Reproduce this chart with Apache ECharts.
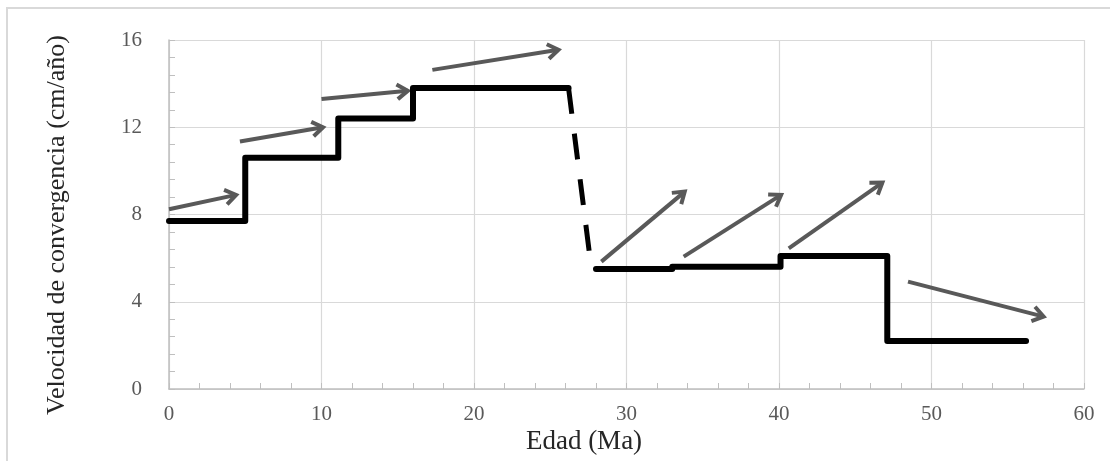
<!DOCTYPE html>
<html>
<head>
<meta charset="utf-8">
<script src="https://cdn.jsdelivr.net/npm/echarts@6/dist/echarts.min.js"></script>
<style>
  html, body { margin: 0; padding: 0; background: #fff; }
  #chart { width: 1110px; height: 461px; }
</style>
</head>
<body>
<div id="chart"></div>
<script>
// escalones de velocidad (Ma, cm/año)
var ages1 = [0, 5, 11.1, 16, 26.2]
var vel1 = [7.7, 10.6, 12.4, 13.8, 13.8]
// tramo discontinuo (caída)
var agesDash = [26.2, 27.7]
var velDash = [13.8, 5.5]
var ages2 = [28.0, 33, 40.1, 47.1, 56.2]
var vel2 = [5.5, 5.6, 6.1, 2.2, 2.2]
// flechas: [edad inicio, vel inicio, edad fin, vel fin]
var arrows = [
  [0, 8.24, 4.4, 8.9],
  [4.65, 11.35, 10.1, 12.0],
  [10.0, 13.29, 15.66, 13.67],
  [17.27, 14.63, 25.54, 15.55],
  [28.35, 5.84, 33.82, 9.05],
  [33.75, 6.07, 40.14, 8.9],
  [40.64, 6.45, 46.78, 9.46],
  [48.46, 4.92, 57.35, 3.32]
]

function zip(a, b) {
  return a.map(function (v, i) { return [v, b[i]] })
}

var chart = echarts.init(document.getElementById('chart'))
var serif = '"Liberation Serif", "Times New Roman", serif'

chart.setOption({
  animation: false,
  grid: { left: 169, right: 26, top: 40, bottom: 72 },
  graphic: [
    {
      type: 'rect',
      shape: { x: 7, y: 8, width: 1120, height: 470 },
      style: { fill: 'none', stroke: '#d9d9d9', lineWidth: 2 },
      silent: true
    },
    {
      type: 'text',
      x: 584, y: 442,
      style: {
        text: 'Edad (Ma)', font: '27px ' + serif, fill: '#262626',
        textAlign: 'center', textVerticalAlign: 'middle'
      }
    },
    {
      type: 'text',
      x: 57, y: 225, rotation: Math.PI / 2,
      style: {
        text: 'Velocidad de convergencia (cm/año)', font: '26px ' + serif, fill: '#262626',
        textAlign: 'center', textVerticalAlign: 'middle'
      }
    }
  ],
  xAxis: {
    type: 'value',
    min: 0, max: 60, interval: 10,
    axisLine: { lineStyle: { color: '#bfbfbf', width: 1.5 } },
    axisTick: { show: true, inside: true, length: 6, lineStyle: { color: '#bfbfbf' } },
    minorTick: { show: true, splitNumber: 5, length: 6, lineStyle: { color: '#bfbfbf' } },
    splitLine: { show: true, lineStyle: { color: '#d9d9d9', width: 1.2 } },
    axisLabel: { color: '#595959', fontFamily: serif, fontSize: 21, margin: 15 }
  },
  yAxis: {
    type: 'value',
    min: 0, max: 16, interval: 4,
    axisLine: { show: true, lineStyle: { color: '#bfbfbf', width: 1.5 } },
    axisTick: { show: true, inside: true, length: 6, lineStyle: { color: '#bfbfbf' } },
    minorTick: { show: true, splitNumber: 5, length: 6, lineStyle: { color: '#bfbfbf' } },
    splitLine: { show: true, lineStyle: { color: '#d9d9d9', width: 1.2 } },
    axisLabel: { color: '#595959', fontFamily: serif, fontSize: 21, margin: 27 }
  },
  series: [
    {
      type: 'line',
      step: 'end',
      data: zip(ages1, vel1),
      symbol: 'none',
      lineStyle: { color: '#000', width: 6, cap: 'round', join: 'round' }
    },
    {
      type: 'line',
      data: zip(agesDash, velDash),
      symbol: 'none',
      lineStyle: { color: '#000', width: 5, type: [26, 20] }
    },
    {
      type: 'line',
      step: 'end',
      data: zip(ages2, vel2),
      symbol: 'none',
      lineStyle: { color: '#000', width: 6, cap: 'round', join: 'round' }
    },
    {
      type: 'custom',
      data: arrows,
      renderItem: function (params, api) {
        var p0 = api.coord([api.value(0), api.value(1)])
        var p1 = api.coord([api.value(2), api.value(3)])
        var ang = Math.atan2(p1[1] - p0[1], p1[0] - p0[0])
        var len = 13, spread = 0.6
        var a = [p1[0] - len * Math.cos(ang - spread), p1[1] - len * Math.sin(ang - spread)]
        var b = [p1[0] - len * Math.cos(ang + spread), p1[1] - len * Math.sin(ang + spread)]
        var style = { stroke: '#595959', lineWidth: 4, fill: 'none' }
        return {
          type: 'group',
          children: [
            { type: 'line', shape: { x1: p0[0], y1: p0[1], x2: p1[0], y2: p1[1] }, style: style },
            { type: 'polyline', shape: { points: [a, p1, b] }, style: style }
          ]
        }
      },
      z: 3
    }
  ]
})
</script>
</body>
</html>
